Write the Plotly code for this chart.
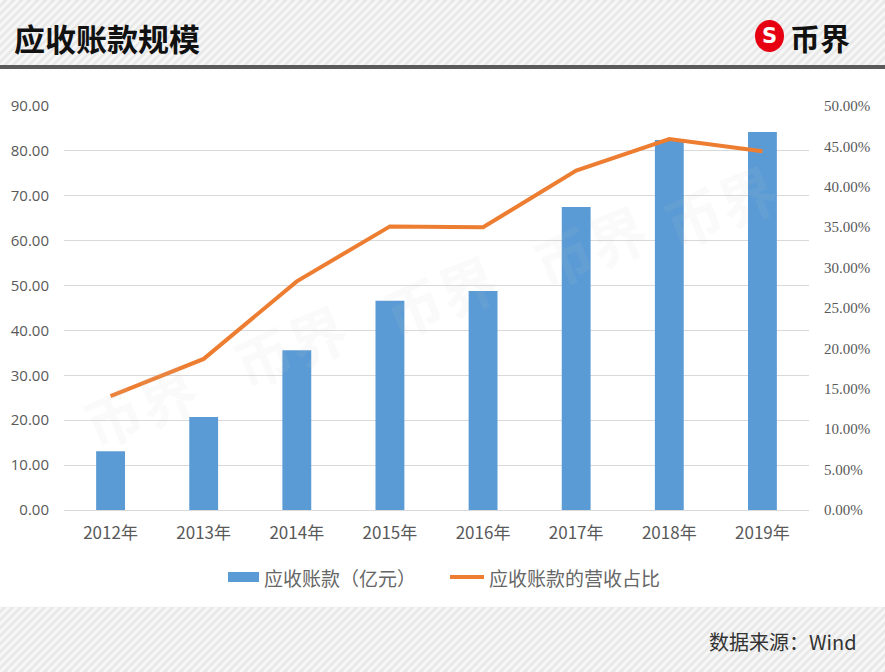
import plotly.graph_objects as go

years = ["2012年", "2013年", "2014年", "2015年", "2016年", "2017年", "2018年", "2019年"]
receivables = [13.1, 20.7, 35.6, 46.6, 48.8, 67.5, 82.4, 84.2]
ratio_pct = [14.1, 18.7, 28.3, 35.1, 35.0, 42.0, 45.9, 44.4]
bar_name = "应收账款（亿元）"
line_name = "应收账款的营收占比"

W, H = 885, 672
L, R, T, B = 64, 809, 106, 510
BAR_COLOR = "#5B9BD5"
LINE_COLOR = "#ED7D31"


def px(x):
    return (x - L) / (R - L)


def py(y):
    return (B - y) / (B - T)


fig = go.Figure()
fig.add_trace(go.Bar(x=years, y=receivables, name=bar_name,
                     marker=dict(color=BAR_COLOR, line=dict(width=0)), yaxis="y"))
fig.add_trace(go.Scatter(x=years, y=ratio_pct, name=line_name, mode="lines",
                         line=dict(color=LINE_COLOR, width=4), yaxis="y2"))

shapes = []
# header & footer bands
for (y0, y1) in [(0, 66), (607, H)]:
    shapes.append(dict(type="rect", xref="paper", yref="paper", x0=px(0), x1=px(W),
                       y0=py(y1), y1=py(y0), fillcolor="#e8e8e8", line=dict(width=0), layer="below"))
    xs = -80
    while xs < W + 10:
        h = y1 - y0
        shapes.append(dict(type="line", xref="paper", yref="paper",
                           x0=px(xs), y0=py(y1), x1=px(xs + h), y1=py(y0),
                           line=dict(color="#f7f7f7", width=3), layer="below"))
        xs += 8
# dark separator line
shapes.append(dict(type="rect", xref="paper", yref="paper", x0=px(0), x1=px(W),
                   y0=py(69), y1=py(65), fillcolor="#5a5a5a", line=dict(width=0), layer="below"))
# logo circle
shapes.append(dict(type="circle", xref="paper", yref="paper", x0=px(755), x1=px(784),
                   y0=py(52), y1=py(20), fillcolor="#e60012", line=dict(width=0)))
# custom legend keys
shapes.append(dict(type="rect", xref="paper", yref="paper", x0=px(228), x1=px(259),
                   y0=py(582), y1=py(572), fillcolor=BAR_COLOR, line=dict(width=0)))
shapes.append(dict(type="line", xref="paper", yref="paper", x0=px(450), x1=px(484),
                   y0=py(577), y1=py(577), line=dict(color=LINE_COLOR, width=4)))

annotations = [
    dict(text="<b>应收账款规模</b>", xref="paper", yref="paper", x=px(12), y=py(37),
         xanchor="left", yanchor="middle", showarrow=False,
         font=dict(size=31, color="#111111", family="Noto Sans CJK SC")),
    dict(text="<b>S</b>", xref="paper", yref="paper", x=px(769.5), y=py(36),
         xanchor="center", yanchor="middle", showarrow=False,
         font=dict(size=21, color="#ffffff", family="DejaVu Sans")),
    dict(text="<b>币界</b>", xref="paper", yref="paper", x=px(788), y=py(37),
         xanchor="left", yanchor="middle", showarrow=False,
         font=dict(size=30, color="#111111", family="Noto Sans CJK SC")),
    dict(text="数据来源：Wind", xref="paper", yref="paper", x=px(859), y=py(641),
         xanchor="right", yanchor="middle", showarrow=False,
         font=dict(size=20, color="#333333", family="Noto Sans CJK SC")),
    dict(text=bar_name, xref="paper", yref="paper", x=px(262), y=py(577),
         xanchor="left", yanchor="middle", showarrow=False,
         font=dict(size=19, color="#666666", family="Noto Sans CJK SC")),
    dict(text=line_name, xref="paper", yref="paper", x=px(487), y=py(577),
         xanchor="left", yanchor="middle", showarrow=False,
         font=dict(size=19, color="#666666", family="Noto Sans CJK SC")),
]
# faint watermarks
for (wx, wy) in [(140, 405), (290, 345), (440, 295), (590, 245), (720, 205)]:
    annotations.append(dict(text="<b>币界</b>", xref="paper", yref="paper", x=px(wx), y=py(wy),
                            xanchor="center", yanchor="middle", showarrow=False, textangle=-22,
                            font=dict(size=58, color="rgba(200,200,200,0.09)", family="Noto Sans CJK SC")))

fig.update_layout(
    width=W, height=H,
    margin=dict(l=L, r=W - R, t=T, b=H - B, pad=0),
    paper_bgcolor="#ffffff", plot_bgcolor="#ffffff",
    bargap=0.69,
    showlegend=False,
    xaxis=dict(showgrid=False, showline=True, linecolor="#d9d9d9", linewidth=1,
               ticks="", tickfont=dict(size=17, color="#595959", family="Noto Sans CJK SC"),
               ticklabelstandoff=8),
    yaxis=dict(range=[0, 90], dtick=10, tickformat=".2f", showgrid=True, gridcolor="#d9d9d9",
               gridwidth=1, zeroline=False, showline=False, ticks="",
               tickfont=dict(size=15, color="#595959", family="Open Sans"), ticklabelstandoff=14),
    yaxis2=dict(range=[0, 50], dtick=5, tickformat=".2f", ticksuffix="%", overlaying="y",
                side="right", showgrid=False, zeroline=False, showline=False, ticks="",
                tickfont=dict(size=15, color="#595959", family="Liberation Serif"),
                ticklabelstandoff=14),
    shapes=shapes,
    annotations=annotations,
    font=dict(family="Noto Sans CJK SC"),
)

fig.write_html("out.html")
